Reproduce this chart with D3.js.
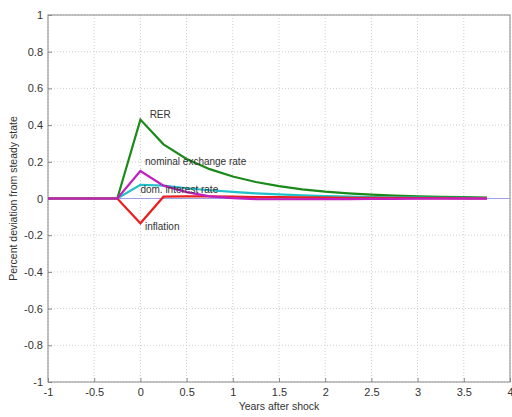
<!DOCTYPE html>
<html><head><meta charset="utf-8">
<script src="https://cdn.jsdelivr.net/npm/d3@7"></script>
<style>body{margin:0;background:#fff}svg{display:block}text{font-family:"Liberation Sans",Arial,sans-serif}</style>
</head><body><svg id="c" width="512" height="417"></svg>
<script>
const quarters = [-1,-0.75,-0.5,-0.25,0,0.25,0.5,0.75,1,1.25,1.5,1.75,2,2.25,2.5,2.75,3,3.25,3.5,3.75];
const rer      = [0,0,0,0,0.43,0.295,0.215,0.16,0.12,0.09,0.067,0.05,0.037,0.028,0.021,0.016,0.012,0.009,0.007,0.005];
const nominal  = [0,0,0,0,0.15,0.07,0.035,0.012,0.002,-0.003,-0.004,-0.004,-0.003,-0.003,-0.002,-0.002,-0.001,-0.001,-0.001,-0.001];
const domRate  = [0,0,0,0,0.075,0.07,0.056,0.045,0.036,0.028,0.022,0.017,0.013,0.01,0.008,0.006,0.005,0.004,0.003,0.002];
const inflation= [0,0,0,0,-0.135,0.01,0.012,0.012,0.01,0.008,0.007,0.006,0.005,0.004,0.003,0.003,0.002,0.002,0.001,0.001];
const xTicks = [-1,-0.5,0,0.5,1,1.5,2,2.5,3,3.5,4];
const yTicks = [-1,-0.8,-0.6,-0.4,-0.2,0,0.2,0.4,0.6,0.8,1];
const seriesNames = ["RER","nominal exchange rate","dom. interest rate","inflation"];
const colors = ["#1a8a1a","#c020c0","#20c0c8","#e82020"];
const labelPos = [[0.1,0.44],[0.05,0.18],[0,0.03],[0.05,-0.17]];

const svg = d3.select("#c");
const L=48,R=510,T=15,B=382;
const x = d3.scaleLinear().domain([-1,4]).range([L,R]);
const y = d3.scaleLinear().domain([-1,1]).range([B,T]);
const fmt = d => String(d);
const g = svg.append("g");
g.selectAll(".gx").data(xTicks).join("line").attr("x1",d=>x(d)).attr("x2",d=>x(d)).attr("y1",T).attr("y2",B)
 .attr("stroke","#cfcfcf").attr("stroke-dasharray","1,2");
g.selectAll(".gy").data(yTicks).join("line").attr("y1",d=>y(d)).attr("y2",d=>y(d)).attr("x1",L).attr("x2",R)
 .attr("stroke","#cfcfcf").attr("stroke-dasharray","1,2");
g.append("rect").attr("x",L).attr("y",T).attr("width",R-L).attr("height",B-T).attr("fill","none").attr("stroke","#888");
const xa = svg.append("g").attr("transform",`translate(0,${B})`).call(d3.axisBottom(x).tickValues(xTicks).tickFormat(fmt).tickSize(-4).tickPadding(6));
const ya = svg.append("g").attr("transform",`translate(${L},0)`).call(d3.axisLeft(y).tickValues(yTicks).tickFormat(fmt).tickSize(-4).tickPadding(5));
[xa,ya].forEach(a=>{a.select(".domain").remove();a.selectAll("line").attr("stroke","#888");a.selectAll("text").attr("font-size",11).attr("fill","#333").attr("font-family","Liberation Sans, Arial, sans-serif");});
svg.append("line").attr("x1",L).attr("x2",R).attr("y1",y(0)).attr("y2",y(0)).attr("stroke","#a0a0e8").attr("stroke-width",1);
const line = d3.line().x((d,i)=>x(quarters[i])).y(d=>y(d));
const all=[rer,nominal,domRate,inflation];
[0,2,3,1].forEach(k=>{
  svg.append("path").attr("d",line(all[k])).attr("fill","none").attr("stroke",colors[k]).attr("stroke-width",2.2);
});
seriesNames.forEach((n,k)=>{
  svg.append("text").attr("x",x(labelPos[k][0])).attr("y",y(labelPos[k][1])).attr("font-size",10).attr("fill","#333").text(n);
});
svg.append("text").attr("x",(L+R)/2).attr("y",410).attr("text-anchor","middle").attr("font-size",10.5).attr("fill","#333").text("Years after shock");
svg.append("text").attr("transform",`translate(17,${(T+B)/2}) rotate(-90)`).attr("text-anchor","middle").attr("font-size",10.5).attr("fill","#333").text("Percent deviation from steady state");
</script></body></html>
